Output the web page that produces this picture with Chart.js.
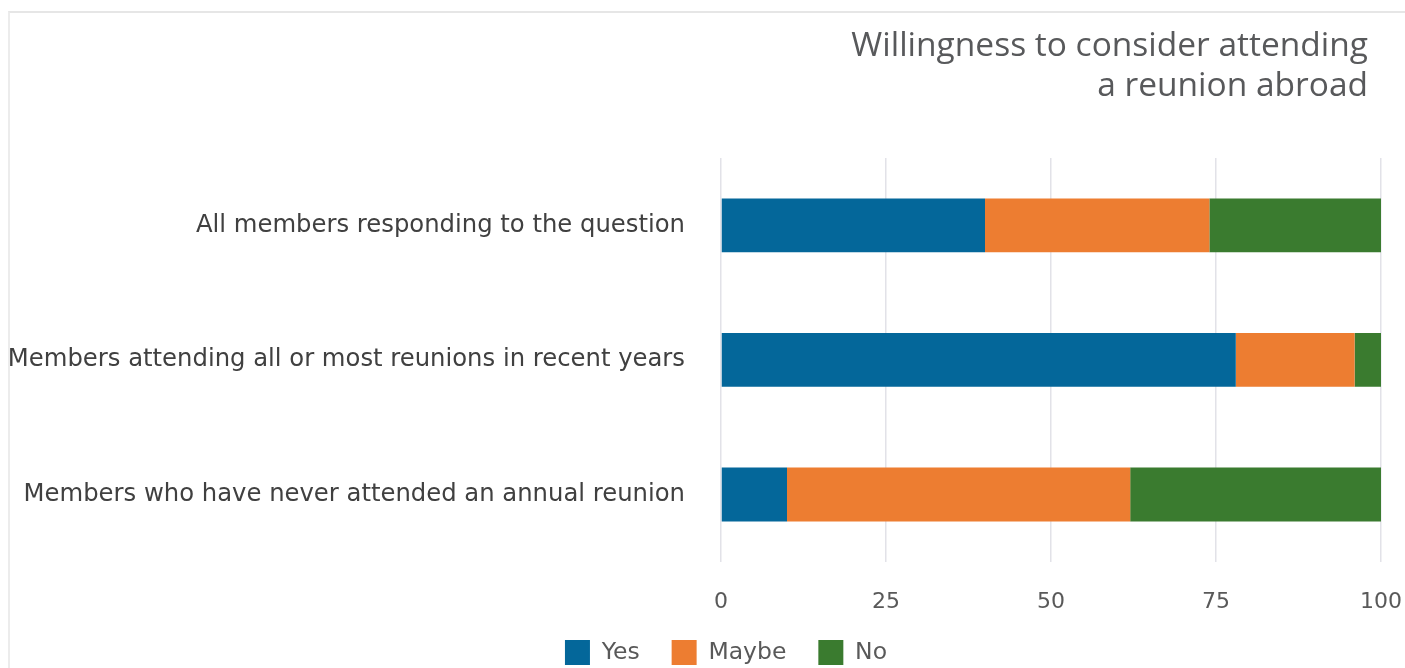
<!DOCTYPE html>
<html>
<head>
<meta charset="utf-8">
<script src="https://cdn.jsdelivr.net/npm/chart.js@4"></script>
<style>
  html, body { margin: 0; padding: 0; background: #fff; overflow: hidden; }
  #wrap { position: relative; width: 1405px; height: 668px; overflow: hidden; }
  #frame { position: absolute; left: 8px; top: 11px; right: 0; bottom: 0; border-top: 2px solid #e6e6e6; border-left: 2px solid #ececec; pointer-events: none; }
  canvas { position: absolute; left: 0; top: 0; }
</style>
</head>
<body>
<div id="wrap">
  <canvas id="c" width="1405" height="675"></canvas>
  <div id="frame"></div>
</div>
<script>
const categories = [
  "All members responding to the question",
  "Members attending all or most reunions in recent years",
  "Members who have never attended an annual reunion"
];
const seriesNames = ["Yes", "Maybe", "No"];
const yesValues = [40, 78, 10];
const maybeValues = [34, 18, 52];
const noValues = [26, 4, 38];
const xTicks = [0, 25, 50, 75, 100];
const titleLines = ["Willingness to consider attending", "a reunion abroad"];
const colors = ["#04679a", "#ed7d31", "#3a7b2f"];

// Nudge title (right inset) and legend (centre) to match the original layout
const layoutTweaks = {
  id: 'layoutTweaks',
  afterLayout(chart) {
    if (chart.titleBlock) chart.titleBlock.right = chart.chartArea.right - 13;
    if (chart.legend) chart.legend.left = chart.legend.left + 71;
  }
};

const ctx = document.getElementById('c');
new Chart(ctx, {
  type: 'bar',
  data: {
    labels: categories,
    datasets: [
      { label: seriesNames[0], data: yesValues, backgroundColor: colors[0] },
      { label: seriesNames[1], data: maybeValues, backgroundColor: colors[1] },
      { label: seriesNames[2], data: noValues, backgroundColor: colors[2] }
    ]
  },
  plugins: [layoutTweaks],
  options: {
    indexAxis: 'y',
    responsive: false,
    animation: false,
    devicePixelRatio: 1,
    datasets: { bar: { categoryPercentage: 0.8, barPercentage: 0.5 } },
    layout: { padding: { left: 0, right: 24, top: 0, bottom: 0 } },
    scales: {
      x: {
        stacked: true,
        min: 0, max: 100,
        afterBuildTicks: (axis) => { axis.ticks = xTicks.map(v => ({ value: v })); },
        grid: { color: '#e2e2e8', lineWidth: 1.5, drawTicks: true, tickLength: 33.8, tickColor: 'rgba(0,0,0,0)' },
        border: { display: false },
        ticks: { color: '#595959', font: { family: 'DejaVu Sans', size: 22 }, padding: -7 }
      },
      y: {
        stacked: true,
        grid: { display: false },
        border: { display: false },
        ticks: { color: '#404040', font: { family: 'DejaVu Sans', size: 24.3 }, padding: 28 },
        afterFit: (axis) => { axis.width = 721; }
      }
    },
    plugins: {
      title: {
        display: true,
        text: titleLines,
        align: 'end',
        color: '#58595b',
        font: { family: 'Open Sans', size: 33.5, weight: 'normal', lineHeight: 1.194 },
        padding: { top: 26, bottom: 52 }
      },
      legend: {
        position: 'bottom',
        labels: {
          color: '#595959',
          font: { family: 'DejaVu Sans', size: 23.5 },
          boxWidth: 25, boxHeight: 25,
          padding: 32
        }
      },
      tooltip: { enabled: false }
    }
  }
});
</script>
</body>
</html>
